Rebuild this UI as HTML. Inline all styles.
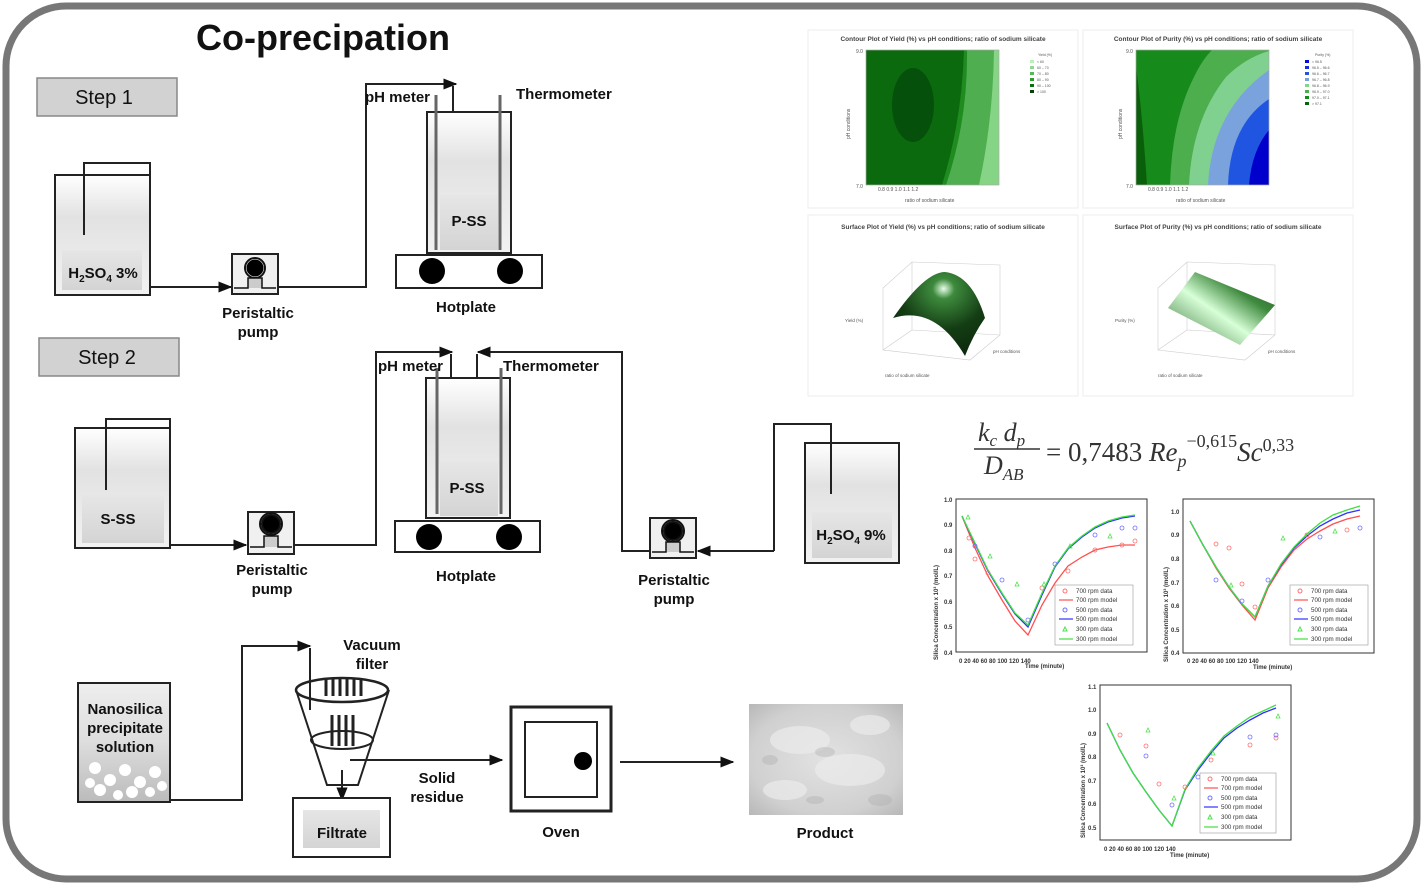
<!DOCTYPE html>
<html><head><meta charset="utf-8"><style>
html,body{margin:0;padding:0;background:#fff;}
body{width:1423px;height:886px;overflow:hidden;position:relative;font-family:"Liberation Sans",Arial,sans-serif;}
svg{position:absolute;left:0;top:0;}
.b{font-weight:bold;fill:#111;}
</style></head><body>
<svg width="1423" height="886" viewBox="0 0 1423 886" xmlns="http://www.w3.org/2000/svg">
<defs>
<marker id="ar" viewBox="0 0 10 10" refX="9" refY="5" markerWidth="7" markerHeight="7" orient="auto"><path d="M0,1 L10,5 L0,9 z" fill="#111"/></marker>
<linearGradient id="liq" x1="0" y1="0" x2="0" y2="1"><stop offset="0" stop-color="#fff"/><stop offset="0.35" stop-color="#e2e2e2"/><stop offset="1" stop-color="#f2f2f2"/></linearGradient>
<linearGradient id="lbl" x1="0" y1="0" x2="0" y2="1"><stop offset="0" stop-color="#e6e6e6"/><stop offset="1" stop-color="#d4d4d4"/></linearGradient>
<linearGradient id="nano" x1="0" y1="0" x2="0" y2="1"><stop offset="0" stop-color="#eee"/><stop offset="0.5" stop-color="#ddd"/><stop offset="1" stop-color="#bbb"/></linearGradient>
<radialGradient id="surf1" cx="0.55" cy="0.2" r="0.8"><stop offset="0" stop-color="#e8ffe8"/><stop offset="0.15" stop-color="#3d8a3d"/><stop offset="0.6" stop-color="#143d14"/><stop offset="1" stop-color="#0c2a0c"/></radialGradient>
<linearGradient id="surf2" x1="0" y1="1" x2="1" y2="0"><stop offset="0" stop-color="#2f6b2f"/><stop offset="0.45" stop-color="#d8ffd8"/><stop offset="0.7" stop-color="#3f8a3f"/><stop offset="1" stop-color="#1f4f1f"/></linearGradient>
<radialGradient id="prod" cx="0.5" cy="0.5" r="0.7"><stop offset="0" stop-color="#e2e2e2"/><stop offset="0.7" stop-color="#d0d0d0"/><stop offset="1" stop-color="#b8b8b8"/></radialGradient>
<clipPath id="c1"><rect x="866" y="50" width="133" height="135"/></clipPath>
<clipPath id="c2"><rect x="1136" y="50" width="133" height="135"/></clipPath>
</defs>

<rect x="6" y="6" width="1411" height="873" rx="60" ry="60" fill="none" stroke="#777" stroke-width="7"/>

<text x="196" y="50" class="b" font-size="36">Co-precipation</text>

<rect x="37" y="78" width="140" height="38" fill="#d2d2d2" stroke="#888" stroke-width="1.5"/>
<text x="104" y="104" font-size="20" text-anchor="middle" fill="#111">Step 1</text>
<rect x="39" y="338" width="140" height="38" fill="#d2d2d2" stroke="#888" stroke-width="1.5"/>
<text x="107" y="364" font-size="20" text-anchor="middle" fill="#111">Step 2</text>

<g stroke="#222" stroke-width="2" fill="none">
<rect x="55" y="175" width="95" height="120" fill="url(#liq)"/>
<polyline points="84,235 84,163 150,163 150,175"/>
<polyline points="150,287 231,287" marker-end="url(#ar)"/>
<rect x="232" y="254" width="46" height="40" fill="#f0f0f0"/>
<polyline points="278,287 366,287 366,84 456,84" marker-end="url(#ar)"/>
<line x1="453" y1="86" x2="453" y2="158"/>
<rect x="427" y="112" width="84" height="141" fill="url(#liq)"/>
<rect x="396" y="255" width="146" height="33" fill="#fff"/>
<rect x="75" y="428" width="95" height="120" fill="url(#liq)"/>
<polyline points="106,490 106,419 170,419 170,428"/>
<polyline points="170,545 246,545" marker-end="url(#ar)"/>
<rect x="248" y="512" width="46" height="42" fill="#f0f0f0"/>
<polyline points="294,545 376,545 376,352 452,352" marker-end="url(#ar)"/>
<line x1="451" y1="354" x2="451" y2="421"/>
<polyline points="650,551 622,551 622,352 478,352" marker-end="url(#ar)"/>
<line x1="477" y1="354" x2="477" y2="421"/>
<rect x="426" y="378" width="84" height="140" fill="url(#liq)"/>
<rect x="395" y="521" width="145" height="31" fill="#fff"/>
<rect x="650" y="518" width="46" height="40" fill="#f0f0f0"/>
<polyline points="774,551 698,551" marker-end="url(#ar)"/>
<polyline points="774,551 774,424 831,424 831,494"/>
<rect x="805" y="443" width="94" height="120" fill="url(#liq)"/>
<polyline points="831,443 831,494"/>
</g>
<rect x="62" y="250" width="80" height="40" fill="url(#lbl)"/>
<rect x="55" y="175" width="95" height="120" fill="none" stroke="#222" stroke-width="2"/>
<text x="103" y="278" class="b" font-size="15" text-anchor="middle">H<tspan font-size="10" dy="4">2</tspan><tspan dy="-4">SO</tspan><tspan font-size="10" dy="4">4</tspan><tspan dy="-4"> 3%</tspan></text>
<rect x="440" y="195" width="58" height="55" fill="url(#lbl)"/>
<text x="469" y="226" class="b" font-size="15" text-anchor="middle">P-SS</text>
<rect x="82" y="495" width="82" height="48" fill="url(#lbl)"/>
<text x="118" y="524" class="b" font-size="15" text-anchor="middle">S-SS</text>
<rect x="440" y="462" width="58" height="54" fill="url(#lbl)"/>
<text x="467" y="493" class="b" font-size="15" text-anchor="middle">P-SS</text>
<rect x="812" y="512" width="80" height="46" fill="url(#lbl)"/>
<rect x="805" y="443" width="94" height="120" fill="none" stroke="#222" stroke-width="2"/>
<text x="851" y="540" class="b" font-size="15" text-anchor="middle">H<tspan font-size="10" dy="4">2</tspan><tspan dy="-4">SO</tspan><tspan font-size="10" dy="4">4</tspan><tspan dy="-4"> 9%</tspan></text>

<g stroke="#666" stroke-width="3">
<line x1="436" y1="95" x2="436" y2="250"/><line x1="500" y1="95" x2="500" y2="250"/>
<line x1="437" y1="368" x2="437" y2="514"/><line x1="501" y1="368" x2="501" y2="514"/>
</g>
<g fill="#000"><circle cx="432" cy="271" r="13"/><circle cx="510" cy="271" r="13"/><circle cx="429" cy="537" r="13"/><circle cx="509" cy="537" r="13"/></g>
<g stroke="#111" stroke-width="2" fill="none">
<circle cx="255" cy="268" r="9" fill="#000" stroke="#fff" stroke-width="1"/><circle cx="255" cy="268" r="10"/>
<path d="M234,288 h14 v-10 h14 v10 h14" fill="#ccc" stroke-width="1.5"/>
<circle cx="271" cy="524" r="9" fill="#000"/><circle cx="271" cy="524" r="11"/>
<path d="M250,547 h14 v-11 h14 v11 h14" fill="#ccc" stroke-width="1.5"/>
<circle cx="673" cy="531" r="9" fill="#000"/><circle cx="673" cy="531" r="11"/>
<path d="M652,552 h14 v-10 h14 v10 h14" fill="#ccc" stroke-width="1.5"/>
</g>

<g class="b" font-size="15" text-anchor="middle">
<text x="258" y="318">Peristaltic</text><text x="258" y="337">pump</text>
<text x="272" y="575">Peristaltic</text><text x="272" y="594">pump</text>
<text x="674" y="585">Peristaltic</text><text x="674" y="604">pump</text>
<text x="466" y="312">Hotplate</text><text x="466" y="581">Hotplate</text>
<text x="372" y="650">Vacuum</text><text x="372" y="669">filter</text>
<text x="437" y="783">Solid</text><text x="437" y="802">residue</text>
<text x="561" y="837">Oven</text><text x="825" y="838">Product</text>
</g>
<g class="b" font-size="15">
<text x="365" y="102">pH meter</text><text x="516" y="99">Thermometer</text>
<text x="378" y="371">pH meter</text><text x="503" y="371">Thermometer</text>
</g>

<rect x="78" y="683" width="92" height="119" fill="url(#nano)" stroke="#222" stroke-width="2"/>
<g fill="#fff"><circle cx="95" cy="768" r="6"/><circle cx="110" cy="780" r="6"/><circle cx="125" cy="770" r="6"/><circle cx="140" cy="782" r="6"/><circle cx="155" cy="772" r="6"/><circle cx="100" cy="790" r="6"/><circle cx="132" cy="792" r="6"/><circle cx="150" cy="792" r="5"/><circle cx="118" cy="795" r="5"/><circle cx="90" cy="783" r="5"/><circle cx="162" cy="786" r="5"/></g>
<g class="b" font-size="15" text-anchor="middle"><text x="125" y="714">Nanosilica</text><text x="125" y="733">precipitate</text><text x="125" y="752">solution</text></g>
<g stroke="#222" stroke-width="2" fill="none">
<polyline points="170,800 242,800 242,646 310,646" marker-end="url(#ar)"/>
<line x1="310" y1="648" x2="310" y2="710"/>
<path d="M296,690 L327,785 L358,785 L389,690"/>
<ellipse cx="342" cy="690" rx="46" ry="12" stroke-width="2.5"/>
<ellipse cx="342" cy="740" rx="31" ry="9"/>
<g stroke-width="3"><line x1="326" y1="678" x2="326" y2="696"/><line x1="333" y1="678" x2="333" y2="696"/><line x1="340" y1="678" x2="340" y2="696"/><line x1="347" y1="678" x2="347" y2="696"/><line x1="354" y1="678" x2="354" y2="696"/><line x1="361" y1="678" x2="361" y2="696"/>
<line x1="332" y1="715" x2="332" y2="746"/><line x1="339" y1="715" x2="339" y2="746"/><line x1="346" y1="715" x2="346" y2="746"/><line x1="353" y1="715" x2="353" y2="746"/></g>
<polyline points="342,770 342,800" marker-end="url(#ar)"/>
<rect x="293" y="798" width="97" height="59" fill="#fff"/>
<polyline points="350,760 502,760" marker-end="url(#ar)"/>
<rect x="511" y="707" width="100" height="104" stroke-width="3"/>
<rect x="525" y="722" width="72" height="75"/>
<polyline points="620,762 733,762" marker-end="url(#ar)"/>
</g>
<rect x="303" y="810" width="77" height="38" fill="url(#lbl)"/>
<text x="342" y="838" class="b" font-size="15" text-anchor="middle">Filtrate</text>
<circle cx="583" cy="761" r="9" fill="#000"/>
<rect x="749" y="704" width="154" height="111" fill="url(#prod)"/>
<g fill="#ececec" opacity="0.7"><ellipse cx="800" cy="740" rx="30" ry="14"/><ellipse cx="850" cy="770" rx="35" ry="16"/><ellipse cx="785" cy="790" rx="22" ry="10"/><ellipse cx="870" cy="725" rx="20" ry="10"/></g>
<g fill="#aaa" opacity="0.35"><ellipse cx="825" cy="752" rx="10" ry="5"/><ellipse cx="770" cy="760" rx="8" ry="5"/><ellipse cx="880" cy="800" rx="12" ry="6"/><ellipse cx="815" cy="800" rx="9" ry="4"/></g>

<g stroke="#eee" stroke-width="1" fill="#fff">
<rect x="808" y="30" width="270" height="178"/><rect x="1083" y="30" width="270" height="178"/>
<rect x="808" y="215" width="270" height="181"/><rect x="1083" y="215" width="270" height="181"/>
</g>
<g font-size="6.5" fill="#444" text-anchor="middle" font-weight="bold">
<text x="943" y="41">Contour Plot of Yield (%) vs pH conditions; ratio of sodium silicate</text>
<text x="1218" y="41">Contour Plot of Purity (%) vs pH conditions; ratio of sodium silicate</text>
<text x="943" y="229">Surface Plot of Yield (%) vs pH conditions; ratio of sodium silicate</text>
<text x="1218" y="229">Surface Plot of Purity (%) vs pH conditions; ratio of sodium silicate</text>
</g>
<!-- yield contour -->
<g clip-path="url(#c1)">
<rect x="866" y="50" width="133" height="135" fill="#86d486"/>
<path d="M866,50 L999,50 L999,185 L988,185 Q997,120 999,50 Z" fill="#86d486"/>
<path d="M866,50 L994,50 Q993,120 979,185 L866,185 Z" fill="#4fae4f"/>
<path d="M866,50 L967,50 Q968,120 946,185 L866,185 Z" fill="#1e8c1e"/>
<path d="M866,50 L964,50 Q962,120 942,185 L866,185 Z" fill="#0b6a0e"/>
<ellipse cx="913" cy="105" rx="21" ry="37" fill="#05500b"/>
</g>
<!-- purity contour -->
<g clip-path="url(#c2)">
<rect x="1136" y="50" width="133" height="135" fill="#0000cc"/>
<path d="M1136,185 L1249,185 Q1252,150 1269,130 L1269,50 L1136,50 Z" fill="#1f55e0"/>
<path d="M1136,185 L1228,185 Q1230,125 1269,99 L1269,50 L1136,50 Z" fill="#7aa2dd"/>
<path d="M1136,185 L1208,185 Q1212,110 1269,70 L1269,50 L1136,50 Z" fill="#80d090"/>
<path d="M1136,185 L1189,185 Q1192,120 1226,77 Q1245,58 1269,51 L1269,50 L1136,50 Z" fill="#4cae4c"/>
<path d="M1136,185 L1170,185 Q1172,120 1194,77 Q1202,60 1212,50 L1136,50 Z" fill="#168a1a"/>
<path d="M1136,185 L1147,185 Q1142,110 1136,67 Z" fill="#0a5f0a"/>
</g>
<rect x="866" y="50" width="133" height="135" fill="none" stroke="#aaa" stroke-width="0.7"/>
<rect x="1136" y="50" width="133" height="135" fill="none" stroke="#aaa" stroke-width="0.7"/>
<g font-size="5" fill="#555">
<text x="905" y="202">ratio of sodium silicate</text><text x="1176" y="202">ratio of sodium silicate</text>
<text x="850" y="139" transform="rotate(-90 850 139)">pH conditions</text><text x="1122" y="139" transform="rotate(-90 1122 139)">pH conditions</text>
<text x="878" y="191">0.8 0.9 1.0 1.1 1.2</text><text x="1148" y="191">0.8 0.9 1.0 1.1 1.2</text>
<text x="856" y="53">9.0</text><text x="856" y="188">7.0</text><text x="1126" y="53">9.0</text><text x="1126" y="188">7.0</text>
</g>
<g font-size="3.5" fill="#555">
<text x="1038" y="56">Yield (%)</text>
<rect x="1030" y="60" width="4" height="3" fill="#b8f0b8"/><rect x="1030" y="66" width="4" height="3" fill="#8fd88f"/><rect x="1030" y="72" width="4" height="3" fill="#58b858"/><rect x="1030" y="78" width="4" height="3" fill="#2e9a2e"/><rect x="1030" y="84" width="4" height="3" fill="#0a6e0a"/><rect x="1030" y="90" width="4" height="3" fill="#05420a"/>
<text x="1037" y="63">&lt; 60</text><text x="1037" y="69">60 – 70</text><text x="1037" y="75">70 – 80</text><text x="1037" y="81">80 – 90</text><text x="1037" y="87">90 – 100</text><text x="1037" y="93">&gt; 100</text>
<text x="1315" y="56">Purity (%)</text>
<rect x="1305" y="60" width="4" height="3" fill="#0a0ad8"/><rect x="1305" y="66" width="4" height="3" fill="#1a2ee0"/><rect x="1305" y="72" width="4" height="3" fill="#2555e0"/><rect x="1305" y="78" width="4" height="3" fill="#7aa0e0"/><rect x="1305" y="84" width="4" height="3" fill="#84d48c"/><rect x="1305" y="90" width="4" height="3" fill="#4cae4c"/><rect x="1305" y="96" width="4" height="3" fill="#118e1a"/><rect x="1305" y="102" width="4" height="3" fill="#05640e"/>
<text x="1312" y="63">&lt; 96.5</text><text x="1312" y="69">96.5 – 96.6</text><text x="1312" y="75">96.6 – 96.7</text><text x="1312" y="81">96.7 – 96.8</text><text x="1312" y="87">96.8 – 96.9</text><text x="1312" y="93">96.9 – 97.0</text><text x="1312" y="99">97.0 – 97.1</text><text x="1312" y="105">&gt; 97.1</text>
</g>
<g stroke="#ccc" stroke-width="0.6" fill="none">
<path d="M883,288 L912,262 L1000,265 L1000,335 L970,360 L883,350 Z M912,262 L912,330 L1000,335 M912,330 L883,350"/>
<path d="M1158,288 L1187,262 L1275,265 L1275,335 L1245,360 L1158,350 Z M1187,262 L1187,330 L1275,335 M1187,330 L1158,350"/>
</g>
<path d="M893,318 Q925,272 945,272 Q972,275 985,318 Q973,335 965,356 Q935,305 893,318 Z" fill="url(#surf1)"/>
<path d="M1168,308 L1195,272 L1275,305 L1240,345 Z" fill="url(#surf2)"/>
<g font-size="4.5" fill="#555"><text x="845" y="322">Yield (%)</text><text x="1115" y="322">Purity (%)</text><text x="885" y="377">ratio of sodium silicate</text><text x="1158" y="377">ratio of sodium silicate</text><text x="993" y="353">pH conditions</text><text x="1268" y="353">pH conditions</text></g>

<g font-family="Liberation Serif,serif" fill="#333">
<text x="978" y="441" font-size="26" font-style="italic">k<tspan font-size="17" dy="5">c</tspan><tspan dy="-5"> d</tspan><tspan font-size="17" dy="5">p</tspan></text>
<line x1="974" y1="449" x2="1040" y2="449" stroke="#333" stroke-width="1.5"/>
<text x="984" y="474" font-size="26" font-style="italic">D<tspan font-size="17" dy="6">AB</tspan></text>
<text x="1046" y="461" font-size="27">= 0,7483 <tspan font-style="italic">Re</tspan><tspan font-size="18" font-style="italic" dy="6">p</tspan><tspan font-size="18" dy="-20">−0,615</tspan><tspan font-style="italic" dy="14">Sc</tspan><tspan font-size="18" dy="-10">0,33</tspan></text>
</g>

<g font-size="6" fill="#333" font-weight="bold">
<rect x="956" y="499" width="191" height="153" fill="none" stroke="#333" stroke-width="1"/>
<text x="1025" y="668">Time (minute)</text>
<text x="938" y="660" transform="rotate(-90 938 660)">Silica Concentration x 10³ (mol/L)</text>
<text x="959" y="663">0   20   40   60   80  100 120 140</text>
<text x="944" y="502">1.0</text><text x="944" y="527">0.9</text><text x="944" y="553">0.8</text><text x="944" y="578">0.7</text><text x="944" y="604">0.6</text><text x="944" y="629">0.5</text><text x="944" y="655">0.4</text>
<rect x="1183" y="499" width="191" height="154" fill="none" stroke="#333" stroke-width="1"/>
<text x="1253" y="669">Time (minute)</text>
<text x="1168" y="662" transform="rotate(-90 1168 662)">Silica Concentration x 10³ (mol/L)</text>
<text x="1187" y="663">0   20   40   60   80  100 120 140</text>
<text x="1171" y="514">1.0</text><text x="1171" y="537">0.9</text><text x="1171" y="561">0.8</text><text x="1171" y="585">0.7</text><text x="1171" y="608">0.6</text><text x="1171" y="632">0.5</text><text x="1171" y="655">0.4</text>
<rect x="1100" y="685" width="191" height="155" fill="none" stroke="#333" stroke-width="1"/>
<text x="1170" y="857">Time (minute)</text>
<text x="1085" y="838" transform="rotate(-90 1085 838)">Silica Concentration x 10³ (mol/L)</text>
<text x="1104" y="851">0   20   40   60   80  100 120 140</text>
<text x="1088" y="689">1.1</text><text x="1088" y="712">1.0</text><text x="1088" y="736">0.9</text><text x="1088" y="759">0.8</text><text x="1088" y="783">0.7</text><text x="1088" y="806">0.6</text><text x="1088" y="830">0.5</text>
</g>
<g fill="none" stroke-width="1.3">
<polyline stroke="#ff5050" points="962,516 975,548 988,576 1002,600 1015,621 1028,635 1042,605 1055,583 1068,566 1082,557 1095,550 1108,547 1122,545 1135,545"/>
<polyline stroke="#3030ff" points="962,516 975,544 988,571 1002,594 1015,614 1028,627 1042,595 1055,567 1068,549 1082,537 1095,528 1108,522 1122,518 1135,516"/>
<polyline stroke="#40e040" points="962,516 975,543 988,570 1002,593 1015,613 1028,625 1042,593 1055,566 1068,548 1082,536 1095,527 1108,521 1122,517 1135,515"/>
<polyline stroke="#ff5050" points="1190,521 1203,545 1216,568 1229,588 1242,605 1255,620 1268,588 1281,567 1294,550 1307,539 1320,531 1333,524 1347,519 1360,516"/>
<polyline stroke="#3030ff" points="1190,521 1203,545 1216,567 1229,587 1242,604 1255,617 1268,586 1281,565 1294,548 1307,536 1320,526 1333,519 1347,513 1360,510"/>
<polyline stroke="#40e040" points="1190,521 1203,545 1216,567 1229,587 1242,604 1255,617 1268,586 1281,564 1294,547 1307,534 1320,523 1333,515 1347,510 1360,506"/>
<polyline stroke="#3030ff" points="1107,723 1120,750 1133,773 1146,792 1159,810 1172,826 1185,790 1198,770 1211,753 1224,738 1237,728 1250,720 1263,713 1276,708"/>
<polyline stroke="#40e040" points="1107,723 1120,750 1133,773 1146,792 1159,810 1172,826 1185,789 1198,768 1211,751 1224,736 1237,726 1250,717 1263,711 1276,705"/>
</g>
<g fill="none" stroke-width="0.8">
<g stroke="#ff7070"><circle cx="969" cy="538" r="2"/><circle cx="975" cy="559" r="2"/><circle cx="988" cy="573" r="2"/><circle cx="1042" cy="588" r="2"/><circle cx="1068" cy="571" r="2"/><circle cx="1095" cy="550" r="2"/><circle cx="1122" cy="545" r="2"/><circle cx="1135" cy="541" r="2"/><circle cx="1216" cy="544" r="2"/><circle cx="1229" cy="548" r="2"/><circle cx="1242" cy="584" r="2"/><circle cx="1255" cy="607" r="2"/><circle cx="1307" cy="535" r="2"/><circle cx="1347" cy="530" r="2"/><circle cx="1120" cy="735" r="2"/><circle cx="1146" cy="746" r="2"/><circle cx="1159" cy="784" r="2"/><circle cx="1185" cy="787" r="2"/><circle cx="1211" cy="760" r="2"/><circle cx="1250" cy="745" r="2"/><circle cx="1276" cy="738" r="2"/></g>
<g stroke="#7070ff"><circle cx="975" cy="546" r="2"/><circle cx="1002" cy="580" r="2"/><circle cx="1028" cy="620" r="2"/><circle cx="1055" cy="564" r="2"/><circle cx="1095" cy="535" r="2"/><circle cx="1122" cy="528" r="2"/><circle cx="1135" cy="528" r="2"/><circle cx="1216" cy="580" r="2"/><circle cx="1242" cy="601" r="2"/><circle cx="1268" cy="580" r="2"/><circle cx="1320" cy="537" r="2"/><circle cx="1360" cy="528" r="2"/><circle cx="1146" cy="756" r="2"/><circle cx="1172" cy="805" r="2"/><circle cx="1198" cy="777" r="2"/><circle cx="1250" cy="737" r="2"/><circle cx="1276" cy="735" r="2"/></g>
<g stroke="#50e050"><path d="M966,519 l2,-4 l2,4z M988,558 l2,-4 l2,4z M1015,586 l2,-4 l2,4z M1042,586 l2,-4 l2,4z M1068,548 l2,-4 l2,4z M1108,538 l2,-4 l2,4z M1229,587 l2,-4 l2,4z M1281,540 l2,-4 l2,4z M1333,533 l2,-4 l2,4z M1146,732 l2,-4 l2,4z M1172,800 l2,-4 l2,4z M1211,755 l2,-4 l2,4z M1276,718 l2,-4 l2,4z"/></g>
</g>
<g font-size="6.2" fill="#333">
<rect x="1055" y="585" width="78" height="60" fill="#fff" stroke="#999" stroke-width="0.6"/>
<circle cx="1065" cy="591" r="2" fill="none" stroke="#ff7070"/><text x="1076" y="593">700 rpm data</text>
<line x1="1059" y1="600" x2="1073" y2="600" stroke="#ff5050" stroke-width="1.2"/><text x="1076" y="602">700 rpm model</text>
<circle cx="1065" cy="610" r="2" fill="none" stroke="#7070ff"/><text x="1076" y="612">500 rpm data</text>
<line x1="1059" y1="619" x2="1073" y2="619" stroke="#3030ff" stroke-width="1.2"/><text x="1076" y="621">500 rpm model</text>
<path d="M1063,631 l2,-4 l2,4z" fill="none" stroke="#50e050"/><text x="1076" y="631">300 rpm data</text>
<line x1="1059" y1="639" x2="1073" y2="639" stroke="#40e040" stroke-width="1.2"/><text x="1076" y="641">300 rpm model</text>

<rect x="1290" y="585" width="78" height="60" fill="#fff" stroke="#999" stroke-width="0.6"/>
<circle cx="1300" cy="591" r="2" fill="none" stroke="#ff7070"/><text x="1311" y="593">700 rpm data</text>
<line x1="1294" y1="600" x2="1308" y2="600" stroke="#ff5050" stroke-width="1.2"/><text x="1311" y="602">700 rpm model</text>
<circle cx="1300" cy="610" r="2" fill="none" stroke="#7070ff"/><text x="1311" y="612">500 rpm data</text>
<line x1="1294" y1="619" x2="1308" y2="619" stroke="#3030ff" stroke-width="1.2"/><text x="1311" y="621">500 rpm model</text>
<path d="M1298,631 l2,-4 l2,4z" fill="none" stroke="#50e050"/><text x="1311" y="631">300 rpm data</text>
<line x1="1294" y1="639" x2="1308" y2="639" stroke="#40e040" stroke-width="1.2"/><text x="1311" y="641">300 rpm model</text>

<rect x="1200" y="773" width="76" height="60" fill="#fff" stroke="#999" stroke-width="0.6"/>
<circle cx="1210" cy="779" r="2" fill="none" stroke="#ff7070"/><text x="1221" y="781">700 rpm data</text>
<line x1="1204" y1="788" x2="1218" y2="788" stroke="#ff5050" stroke-width="1.2"/><text x="1221" y="790">700 rpm model</text>
<circle cx="1210" cy="798" r="2" fill="none" stroke="#7070ff"/><text x="1221" y="800">500 rpm data</text>
<line x1="1204" y1="807" x2="1218" y2="807" stroke="#3030ff" stroke-width="1.2"/><text x="1221" y="809">500 rpm model</text>
<path d="M1208,819 l2,-4 l2,4z" fill="none" stroke="#50e050"/><text x="1221" y="819">300 rpm data</text>
<line x1="1204" y1="827" x2="1218" y2="827" stroke="#40e040" stroke-width="1.2"/><text x="1221" y="829">300 rpm model</text>
</g>
</svg>
</body></html>
